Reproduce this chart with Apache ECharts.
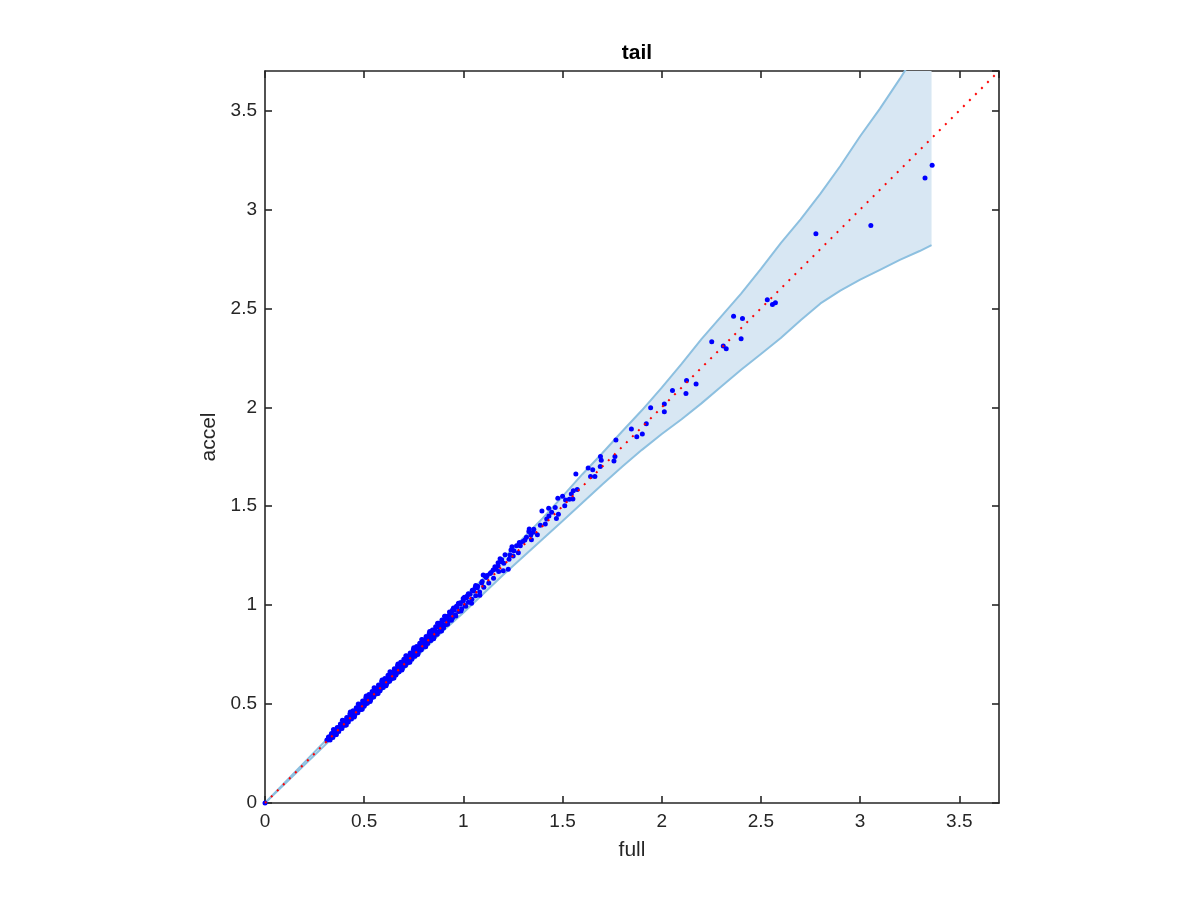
<!DOCTYPE html>
<html>
<head>
<meta charset="utf-8">
<script src="https://cdn.jsdelivr.net/npm/echarts@6/dist/echarts.min.js"></script>
<style>html,body{margin:0;padding:0;background:#fff;}#c{width:1200px;height:900px;}</style>
</head>
<body>
<div id="c"></div>
<script>
// ---- data ----
var chartTitle = 'tail';
var xName = 'full';
var yName = 'accel';
var tickVals = [0, 0.5, 1, 1.5, 2, 2.5, 3, 3.5];

// confidence band
var bandFull  = [0, 0.3, 0.6, 0.9, 1.0, 1.2, 1.4, 1.5, 1.6, 1.7, 1.8, 1.9, 2.0, 2.1, 2.2, 2.3, 2.4, 2.5, 2.6, 2.7, 2.8, 2.9, 3.0, 3.1, 3.2, 3.3, 3.36];
var bandLower = [0, 0.29, 0.58, 0.872, 0.962, 1.152, 1.335, 1.425, 1.518, 1.61, 1.70, 1.785, 1.865, 1.94, 2.02, 2.105, 2.19, 2.27, 2.35, 2.44, 2.525, 2.59, 2.645, 2.695, 2.745, 2.79, 2.82];
var bandUpper = [0, 0.31, 0.62, 0.928, 1.035, 1.235, 1.44, 1.55, 1.662, 1.768, 1.878, 1.985, 2.10, 2.22, 2.345, 2.46, 2.575, 2.70, 2.83, 2.95, 3.08, 3.22, 3.37, 3.51, 3.66, 3.82, 3.92];

// reference line
var refFull  = [0, 3.7];
var refAccel = [0, 3.7];

// scatter points
var fullVals = [0,
0.312,0.318,0.322,0.326,0.330,0.333,0.337,0.340,0.344,0.347,0.351,0.355,0.358,0.362,0.366,0.370,0.374,0.378,0.382,0.386,
0.390,0.394,0.398,0.402,0.406,0.410,0.414,0.418,0.422,0.426,0.430,0.434,0.438,0.442,0.446,0.450,0.454,0.458,0.462,0.466,
0.470,0.474,0.478,0.482,0.486,0.490,0.494,0.498,0.502,0.506,0.510,0.514,0.518,0.522,0.526,0.530,0.534,0.538,0.542,0.546,
0.550,0.554,0.558,0.562,0.566,0.570,0.574,0.578,0.582,0.586,0.590,0.594,0.598,0.602,0.606,0.610,0.614,0.618,0.622,0.626,
0.630,0.634,0.638,0.642,0.646,0.650,0.654,0.658,0.662,0.666,0.670,0.674,0.678,0.682,0.686,0.690,0.694,0.698,0.702,0.706,
0.710,0.714,0.718,0.722,0.726,0.730,0.734,0.738,0.742,0.746,0.750,0.754,0.758,0.762,0.766,0.770,0.775,0.780,0.785,0.790,
0.795,0.800,0.805,0.810,0.815,0.820,0.825,0.830,0.835,0.840,0.845,0.850,0.856,0.862,0.868,0.874,0.880,0.886,0.892,0.898,
0.904,0.910,0.916,0.922,0.928,0.934,0.940,0.946,0.953,0.960,0.968,0.976,0.984,0.992,1.000,1.008,1.016,1.025,1.034,1.043,
1.052,1.062,1.072,1.082,1.092,1.103,1.115,1.128,1.140,1.152,1.165,1.178,
0.320,0.328,0.335,0.342,0.349,0.356,0.364,0.372,0.380,0.388,0.396,0.404,0.412,0.420,0.428,0.436,0.444,0.452,0.460,0.468,
0.476,0.484,0.492,0.500,0.508,0.516,0.524,0.532,0.540,0.548,0.556,0.564,0.572,0.580,0.588,0.596,0.604,0.612,0.620,0.628,
0.636,0.644,0.652,0.660,0.668,0.676,0.684,0.692,0.700,0.708,0.716,0.724,0.732,0.740,0.748,0.756,0.764,0.772,0.780,0.788,
0.796,0.804,0.812,0.820,0.828,0.836,0.844,0.852,0.860,0.868,0.876,0.884,0.892,0.900,0.910,0.920,0.930,0.940,0.950,0.962,
0.975,0.988,0.999,1.012,1.025,1.041,1.060,1.083,1.100,1.120,1.159,1.175,1.193,1.285,
0.345,0.390,0.430,0.470,0.510,0.550,0.590,0.630,0.670,0.710,0.750,0.790,0.830,0.870,0.905,
0.360,0.410,0.450,0.490,0.530,0.570,0.610,0.650,0.690,0.730,0.770,0.810,0.850,0.890,
1.150,1.135,1.110,1.095,1.070,1.062,1.045,1.020,1.005,0.985,0.965,0.945,1.175,1.185,1.210,1.255,1.268,1.300,1.330,1.355,
1.388,1.420,1.445,1.430,
1.201,1.204,1.193,1.226,1.230,1.235,1.251,1.240,1.245,1.277,1.287,1.282,1.310,1.318,1.343,1.340,1.352,1.373,1.332,1.413,
1.431,1.469,1.479,1.463,1.396,1.511,1.476,1.500,1.515,1.534,1.552,1.544,1.554,1.574,1.567,1.641,1.663,1.652,1.629,1.690,
1.695,1.691,1.759,1.764,1.769,1.874,1.902,1.847,1.922,1.944,2.013,2.013,2.054,2.122,2.125,2.173,2.252,2.310,2.325,2.400,
2.362,2.407,2.532,2.558,2.573,2.777,3.054,3.327,3.363];
var accelVals = [0,
0.318,0.322,0.331,0.329,0.337,0.331,0.345,0.341,0.350,0.346,0.358,0.354,0.365,0.360,0.372,0.369,0.381,0.377,0.388,0.384,
0.397,0.392,0.405,0.401,0.414,0.408,0.421,0.419,0.431,0.424,0.438,0.433,0.447,0.440,0.455,0.448,0.462,0.457,0.470,0.463,
0.480,0.471,0.487,0.478,0.494,0.487,0.503,0.495,0.511,0.500,0.519,0.512,0.528,0.518,0.536,0.527,0.543,0.534,0.552,0.541,
0.560,0.551,0.569,0.557,0.577,0.566,0.584,0.573,0.593,0.581,0.601,0.589,0.608,0.598,0.617,0.604,0.626,0.612,0.633,0.620,
0.642,0.628,0.650,0.637,0.657,0.644,0.667,0.652,0.675,0.660,0.682,0.668,0.692,0.676,0.699,0.683,0.708,0.692,0.716,0.699,
0.722,0.708,0.733,0.715,0.740,0.724,0.748,0.731,0.756,0.740,0.765,0.747,0.772,0.755,0.780,0.763,0.790,0.772,0.800,0.783,
0.811,0.792,0.821,0.802,0.832,0.811,0.842,0.822,0.853,0.832,0.864,0.842,0.874,0.853,0.889,0.866,0.898,0.878,0.911,0.890,
0.925,0.901,0.936,0.914,0.948,0.926,0.962,0.937,0.975,0.951,0.990,0.968,1.006,0.982,1.022,0.998,1.038,1.015,1.055,1.030,
1.072,1.048,1.095,1.066,1.112,1.090,1.140,1.112,1.165,1.136,1.182,1.170,
0.334,0.318,0.351,0.331,0.368,0.345,0.382,0.361,0.399,0.377,0.417,0.393,0.432,0.409,0.450,0.424,0.466,0.441,0.482,0.456,
0.499,0.472,0.516,0.489,0.531,0.504,0.548,0.520,0.564,0.536,0.580,0.552,0.597,0.567,0.613,0.584,0.629,0.600,0.646,0.615,
0.661,0.631,0.678,0.647,0.694,0.663,0.711,0.679,0.726,0.695,0.743,0.711,0.758,0.727,0.776,0.742,0.791,0.758,0.808,0.774,
0.825,0.790,0.841,0.806,0.858,0.822,0.875,0.838,0.891,0.853,0.909,0.869,0.925,0.885,0.944,0.904,0.965,0.924,0.986,0.945,
1.010,0.970,1.034,0.994,1.058,1.010,1.090,1.050,1.153,1.150,1.194,1.215,1.220,1.312,
0.372,0.418,0.460,0.501,0.541,0.583,0.622,0.663,0.703,0.744,0.785,0.826,0.867,0.908,0.944,
0.346,0.394,0.435,0.474,0.513,0.553,0.593,0.632,0.672,0.711,0.751,0.790,0.830,0.869,
1.178,1.160,1.148,1.120,1.088,1.100,1.075,1.048,1.040,1.012,0.995,0.975,1.198,1.235,1.255,1.275,1.300,1.322,1.372,1.384,
1.404,1.436,1.470,1.490,
1.174,1.212,1.229,1.181,1.232,1.254,1.249,1.279,1.295,1.265,1.300,1.317,1.330,1.343,1.331,1.355,1.369,1.356,1.385,1.410,
1.451,1.438,1.459,1.494,1.476,1.502,1.540,1.550,1.532,1.535,1.537,1.562,1.578,1.585,1.663,1.650,1.650,1.684,1.693,1.701,
1.732,1.752,1.729,1.752,1.835,1.851,1.865,1.890,1.917,1.998,2.017,1.978,2.085,2.070,2.135,2.118,2.331,2.310,2.296,2.346,
2.460,2.449,2.544,2.520,2.528,2.877,2.919,3.159,3.223];

// ---- build ----
var bandData = bandFull.map(function(x, i){ return [x, bandLower[i], bandUpper[i]]; });
var lowerLine = bandFull.map(function(x, i){ return [x, bandLower[i]]; });
var upperLine = bandFull.map(function(x, i){ return [x, bandUpper[i]]; });
var scatterData = fullVals.map(function(x, i){ return [x, accelVals[i]]; });
var refData = refFull.map(function(x, i){ return [x, refAccel[i]]; });

var AX = '#262626';
var FONT = 'Liberation Sans, Arial, Helvetica, sans-serif';
function fmt(v){ return tickVals.indexOf(Math.round(v*1000)/1000) >= 0 ? String(v) : ''; }

function mkX(pos, showLabel){
  return {
    type:'value', position: pos, min:0, max:3.7, interval:0.5,
    name: showLabel ? xName : '', nameLocation:'middle', nameGap:37,
    nameTextStyle:{color:AX, fontSize:21, fontFamily:FONT},
    axisLine:{show:true, onZero:false, lineStyle:{color:AX, width:1.6}},
    axisTick:{show:true, inside:true, length:7, lineStyle:{color:AX, width:1.6}},
    axisLabel:{show:showLabel, color:AX, fontSize:19, fontFamily:FONT, margin:9, formatter:fmt, showMaxLabel:false},
    splitLine:{show:false}
  };
}
function mkY(pos, showLabel){
  return {
    type:'value', position: pos, min:0, max:3.7, interval:0.5,
    name: showLabel ? yName : '', nameLocation:'middle', nameGap:45,
    nameTextStyle:{color:AX, fontSize:21, fontFamily:FONT},
    axisLine:{show:true, onZero:false, lineStyle:{color:AX, width:1.6}},
    axisTick:{show:true, inside:true, length:7, lineStyle:{color:AX, width:1.6}},
    axisLabel:{show:showLabel, color:AX, fontSize:19, fontFamily:FONT, margin:8, formatter:fmt, showMaxLabel:false},
    splitLine:{show:false}
  };
}

var chart = echarts.init(document.getElementById('c'), null, {renderer:'canvas'});
chart.setOption({
  animation:false,
  backgroundColor:'#ffffff',
  title:{text:chartTitle, left:632, top:38, textAlign:'center',
    textStyle:{color:'#000', fontSize:21, fontWeight:'bold', fontFamily:FONT}},
  grid:{left:265, right:201, top:71, bottom:97, containLabel:false},
  xAxis:[mkX('bottom', true), mkX('top', false)],
  yAxis:[mkY('left', true), mkY('right', false)],
  series:[
    {
      type:'custom', clip:true, z:1,
      data: bandData,
      encode:{x:0, y:[1,2]},
      renderItem:function(params, api){
        if (params.dataIndex !== 0) return null;
        var pts = [];
        for (var i=0;i<bandData.length;i++) pts.push(api.coord([bandData[i][0], bandData[i][2]]));
        for (var j=bandData.length-1;j>=0;j--) pts.push(api.coord([bandData[j][0], bandData[j][1]]));
        return {type:'polygon', shape:{points:pts}, style:{fill:'#d8e7f3', stroke:null}};
      },
      silent:true
    },
    {type:'line', data:upperLine, showSymbol:false, symbol:'none', z:2, clip:true,
      lineStyle:{color:'#8dc0e0', width:2}},
    {type:'line', data:lowerLine, showSymbol:false, symbol:'none', z:2, clip:true,
      lineStyle:{color:'#8dc0e0', width:2}},
    {type:'scatter', data:scatterData, symbol:'circle', symbolSize:5, z:3,
      itemStyle:{color:'#0000ff', opacity:1}},
    {type:'line', data:refData, showSymbol:false, symbol:'none', z:4,
      lineStyle:{color:'#ff0000', width:2, type:[2,6.5]}}
  ]
});
</script>
</body>
</html>
